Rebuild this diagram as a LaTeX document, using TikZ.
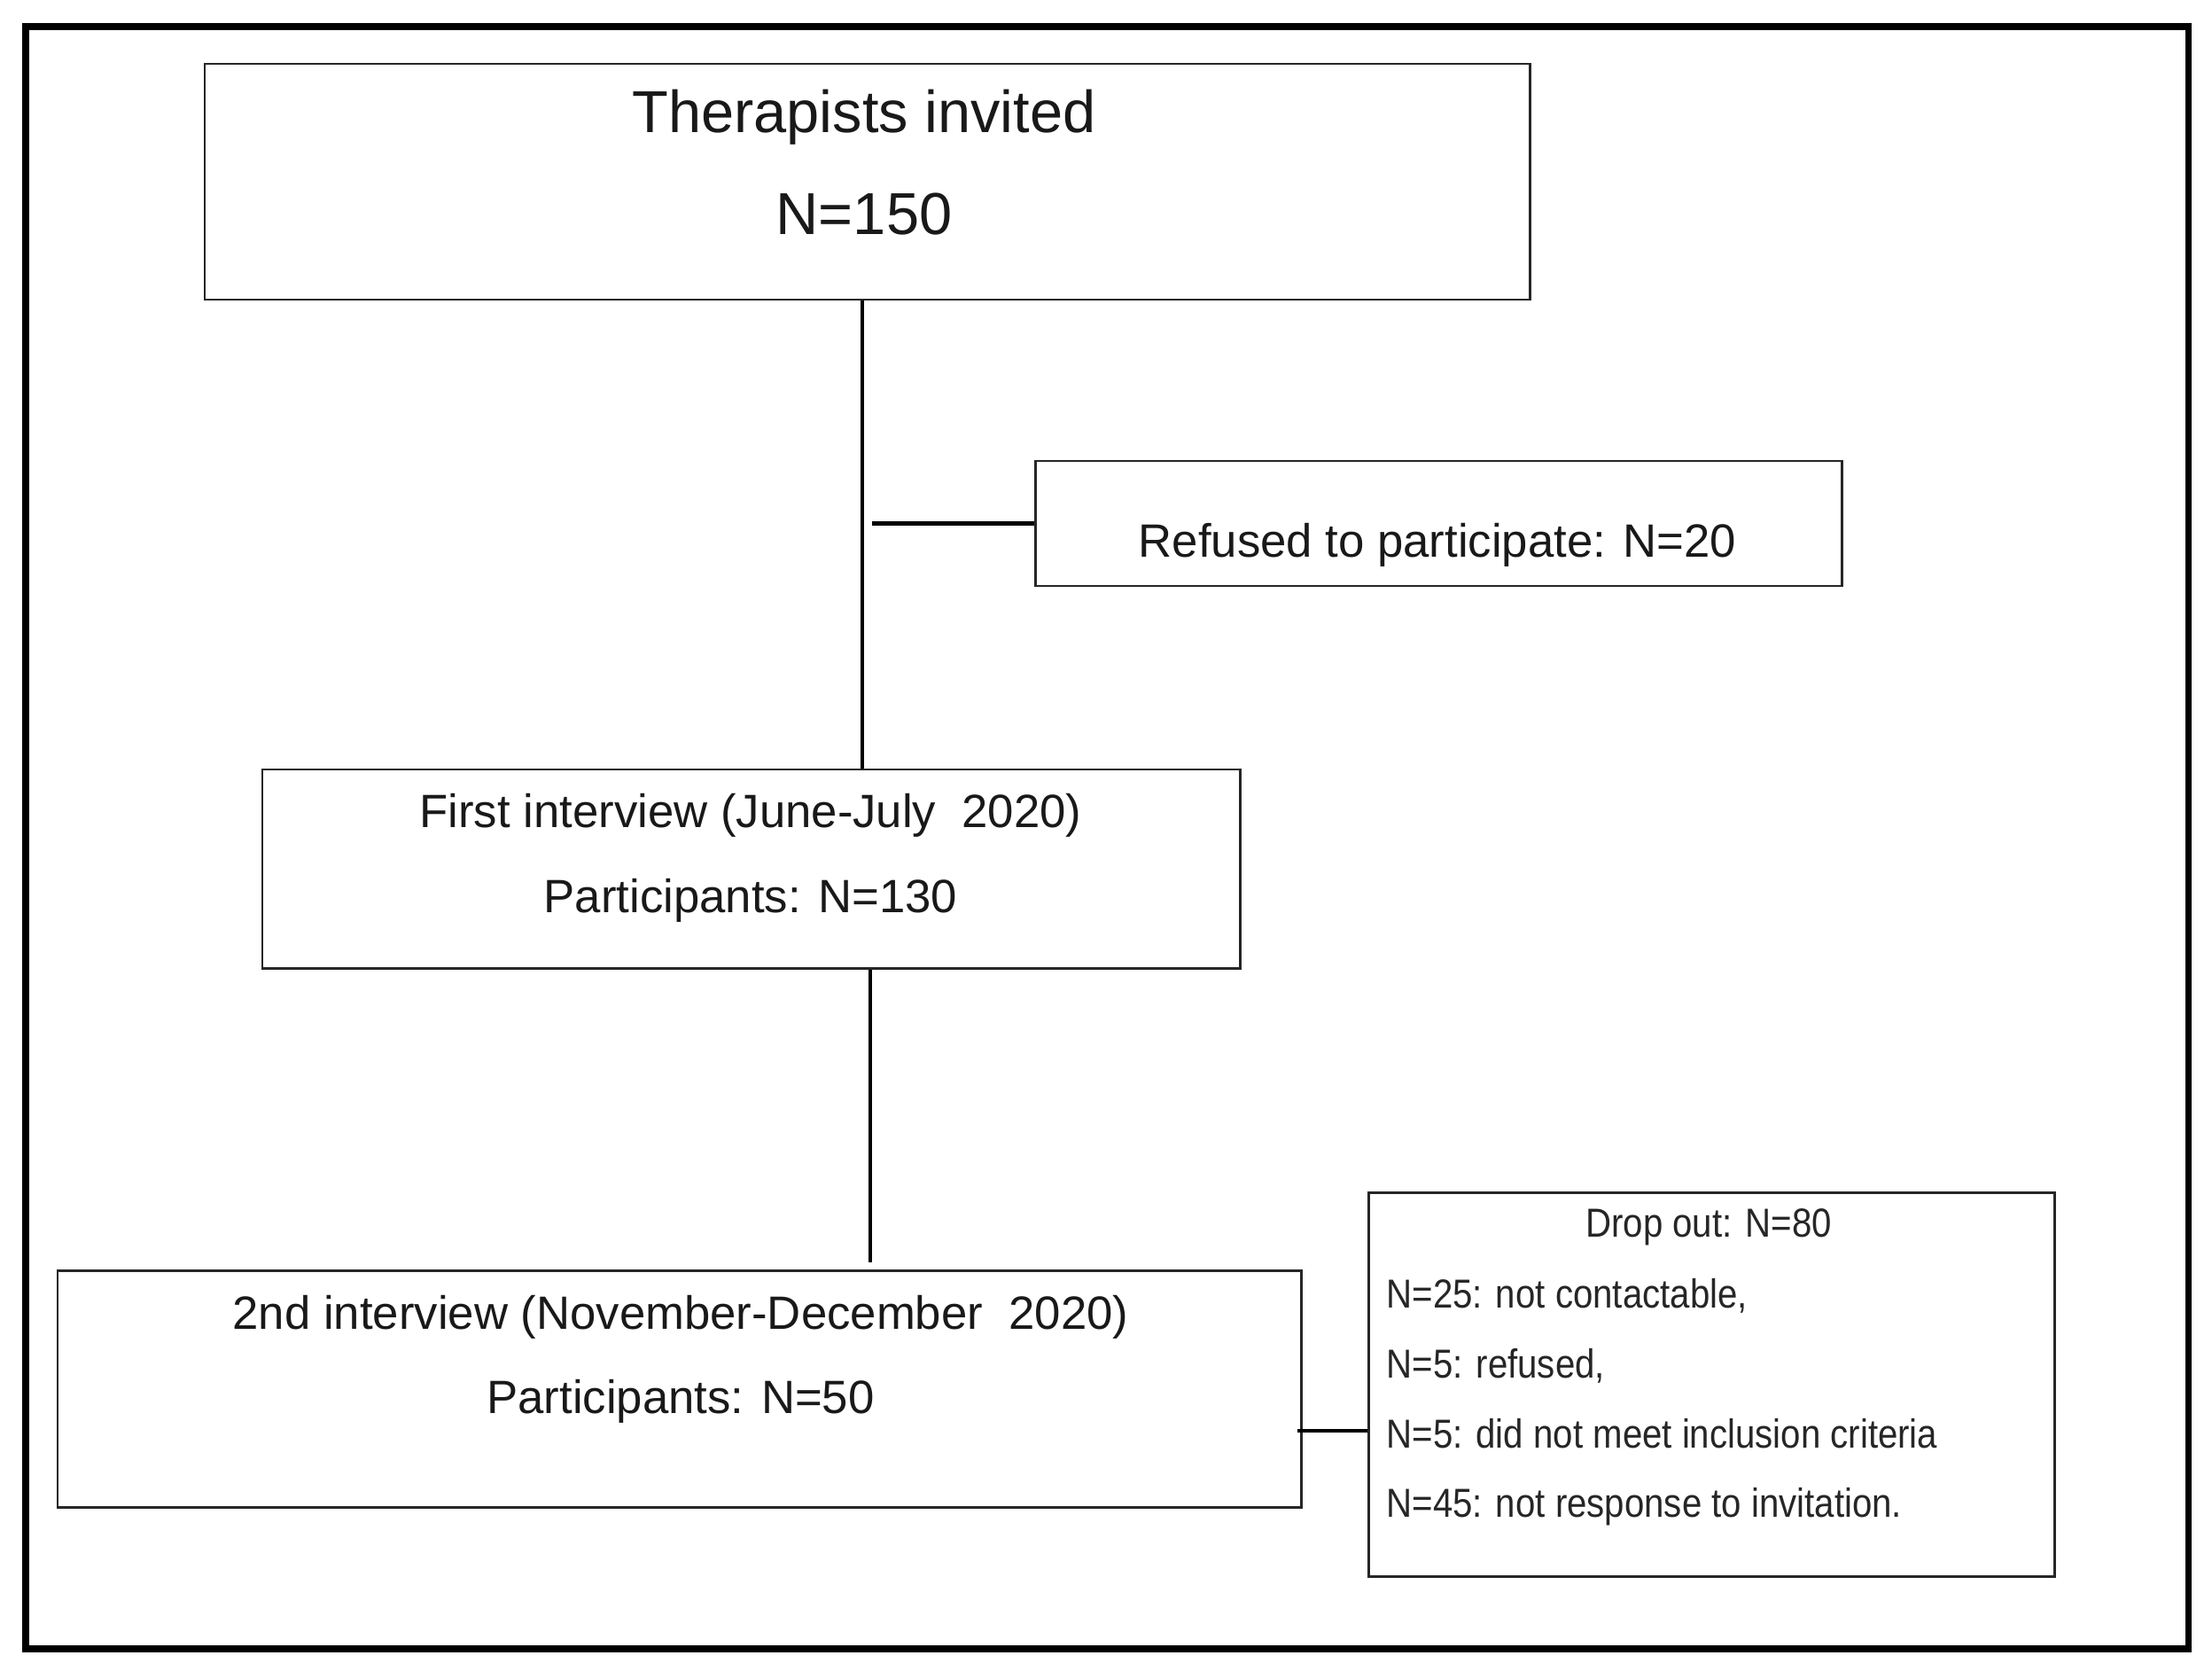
\documentclass[tikz,border=0pt]{standalone}
\usepackage{fontspec}
\usepackage{pgf, tikz}
\setmainfont{Liberation Sans}
\newfontfamily\narrowfont[FakeStretch=0.88]{Liberation Sans}

\begin{document}
\begin{tikzpicture}[
	box/.style={draw=black!85, line width=0.85pt, rectangle, inner sep=0pt},
	bigtxt/.style={align=center, text=black!90, font=\fontsize{19}{32.6}\selectfont},
	midtxt/.style={align=center, text=black!90, font=\fontsize{15}{27}\selectfont},
	smalltxt/.style={align=left, text=black!85, font=\narrowfont\fontsize{13}{22.4}\selectfont},
	link/.style={line width=1.2pt}]
	
	\useasboundingbox (0,0) rectangle (24.96,-18.85);
	\draw[line width=2pt] (0.29,-0.30) rectangle (24.69,-18.60);
	
	% boxes
	\node[box, minimum width=14.95cm, minimum height=2.66cm] (invited) at (9.785,-2.05) {};
	\node[box, minimum width=9.10cm, minimum height=1.41cm] (refused) at (16.23,-5.905) {};
	\node[box, minimum width=11.03cm, minimum height=2.24cm] (first) at (8.475,-9.80) {};
	\node[box, minimum width=14.03cm, minimum height=2.67cm] (second) at (7.665,-15.665) {};
	\node[box, minimum width=7.74cm, minimum height=4.33cm] (drop) at (19.31,-15.615) {};
	
	% texts
	\node[bigtxt] (invitedtxt) at (9.75,-1.83) {Therapists invited\\N=150};
	\node[midtxt] (refusedtxt) at (16.22,-6.15) {Refused to participate: N=20};
	\node[midtxt, font=\fontsize{15}{27.2}\selectfont] (firsttxt) at (8.47,-9.68) {First interview (June-July~ 2020)\\Participants: N=130};
	\node[midtxt, font=\fontsize{15}{26.9}\selectfont] (secondtxt) at (7.68,-15.335) {2nd interview (November-December~ 2020)\\Participants: N=50};
	\node[smalltxt] (droptitle) at (19.28,-13.84) {Drop out: N=80};
	\node[smalltxt, anchor=west, inner sep=0pt] (droplist) at (15.64,-15.82) {N=25: not contactable,\\N=5: refused,\\N=5: did not meet inclusion criteria\\N=45: not response to invitation.};
	
	% connectors
	\coordinate (stemA) at (9.73,0);
	\coordinate (stemB) at (9.82,0);
	\coordinate (dropjoin) at (0,-16.14);
	\draw[link] (invited.south -| stemA) -- (first.north -| stemA);
	\draw[link, shorten <=0.11cm] (stemA |- refused.west) -- (refused.west);
	\draw[link, shorten >=0.08cm] (first.south -| stemB) -- (second.north -| stemB);
	\draw[link, shorten <=-0.06cm] (second.east |- dropjoin) -- (drop.west |- dropjoin);
\end{tikzpicture}
\end{document}
